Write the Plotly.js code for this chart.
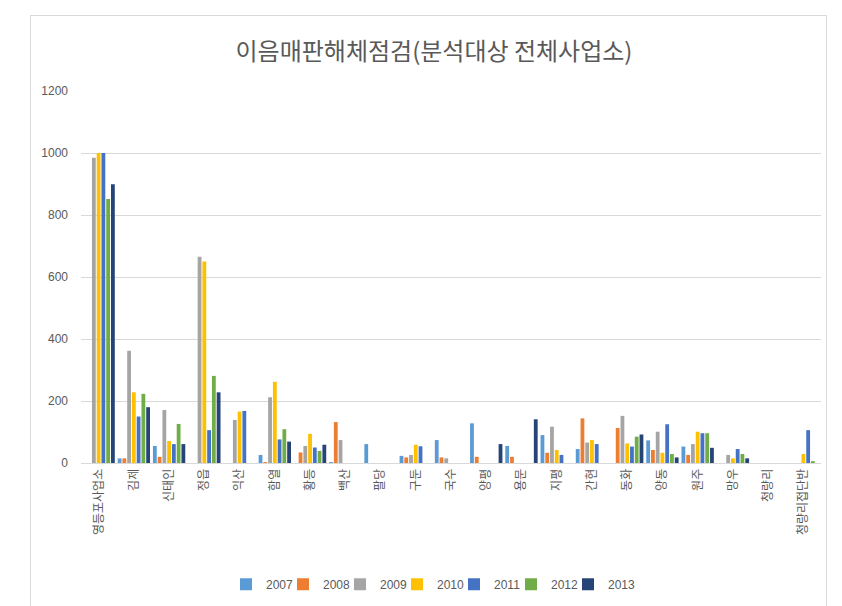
<!DOCTYPE html>
<html>
<head>
<meta charset="utf-8">
<script src="https://cdn.plot.ly/plotly-3.0.1.min.js"></script>
<style>
html,body{margin:0;padding:0;background:#fff;}
#wrap{position:relative;width:842px;height:606px;}
#chart{position:absolute;left:0;top:0;width:842px;height:606px;}
#frame{position:absolute;left:30px;top:15px;width:795px;height:600px;border:1px solid #d9d9d9;pointer-events:none;}
</style>
</head>
<body>
<div id="wrap"><div id="chart"></div><div id="frame"></div></div>
<script>
const categories = ["영등포사업소","김제","신태인","정읍","익산","함열","황등","백산","팔당","구둔","국수","양평","용문","지평","간현","동화","양동","원주","망우","청량리","청량리접단반"];
const years = ["2007","2008","2009","2010","2011","2012","2013"];
const colors = ["#5B9BD5","#ED7D31","#A5A5A5","#FFC000","#4472C4","#70AD47","#264478"];

const v2007 = [null,15,55,null,null,26,null,3,61,23,74,128,55,90,45,null,73,53,null,null,null];
const v2008 = [null,15,20,null,null,3,34,132,null,18,18,20,20,33,144,113,42,26,null,null,null];
const v2009 = [985,362,171,665,139,212,55,74,null,26,15,null,null,117,66,152,101,61,26,null,null];
const v2010 = [1000,228,71,650,166,262,94,null,null,59,null,null,null,42,74,63,33,101,15,null,29];
const v2011 = [1000,150,61,106,168,76,50,null,null,54,null,null,null,26,61,53,125,96,45,null,106];
const v2012 = [852,223,126,281,null,109,39,null,null,null,null,null,null,null,null,85,29,96,29,null,6];
const v2013 = [899,180,61,228,null,69,59,null,null,null,null,61,141,null,null,92,18,49,15,null,null];

const series = [v2007,v2008,v2009,v2010,v2011,v2012,v2013];

const traces = series.map((vals,i)=>({
  type:'bar',
  name:years[i],
  x:categories,
  y:vals,
  marker:{color:colors[i]},
  hoverinfo:'x+y+name'
}));
// invisible, empty spacer legend entry so the last legend label is not clipped
traces.push({type:'scatter', mode:'markers', name:' ', x:[null], y:[null],
  marker:{color:'rgba(0,0,0,0)'}, showlegend:true, hoverinfo:'skip'});

const layout = {
  width:842,
  height:606,
  paper_bgcolor:'rgba(0,0,0,0)',
  plot_bgcolor:'rgba(0,0,0,0)',
  margin:{l:81,r:21,t:91,b:143},
  barmode:'group',
  bargap:0.055,
  bargroupgap:0.2,
  font:{family:'"Noto Sans CJK KR", "Noto Sans", sans-serif',color:'#595959'},
  title:{
    text:'이음매판해체점검(분석대상 전체사업소)',
    font:{family:'"Noto Sans CJK KR", sans-serif',size:24,color:'#595959'},
    x:434/842, xanchor:'center', xref:'container',
    y:0.915, yanchor:'middle', yref:'container'
  },
  xaxis:{
    type:'category',
    categoryorder:'array',
    categoryarray:categories,
    tickangle:-90,
    showline:true,
    linecolor:'#d9d9d9',
    linewidth:1,
    showgrid:false,
    ticks:'',
    tickfont:{family:'"Noto Sans CJK KR", sans-serif',size:12,color:'#595959'},
    automargin:false
  },
  yaxis:{
    range:[0,1200],
    dtick:200,
    showgrid:true,
    gridcolor:'#d9d9d9',
    gridwidth:1,
    zeroline:false,
    showline:false,
    ticks:'',
    ticklabelstandoff:12,
    tickfont:{family:'"Liberation Sans", Arial, sans-serif',size:12,color:'#595959'},
    automargin:false
  },
  legend:{
    orientation:'h',
    x:226/842, xanchor:'left', xref:'container',
    y:0.036, yanchor:'middle', yref:'container',
    font:{family:'"Liberation Sans", Arial, sans-serif',size:12,color:'#595959'},
    itemwidth:30,
    entrywidth:12,
    traceorder:'normal'
  },
  showlegend:true
};

Plotly.newPlot('chart', traces, layout, {staticPlot:true, displayModeBar:false});
</script>
</body>
</html>
